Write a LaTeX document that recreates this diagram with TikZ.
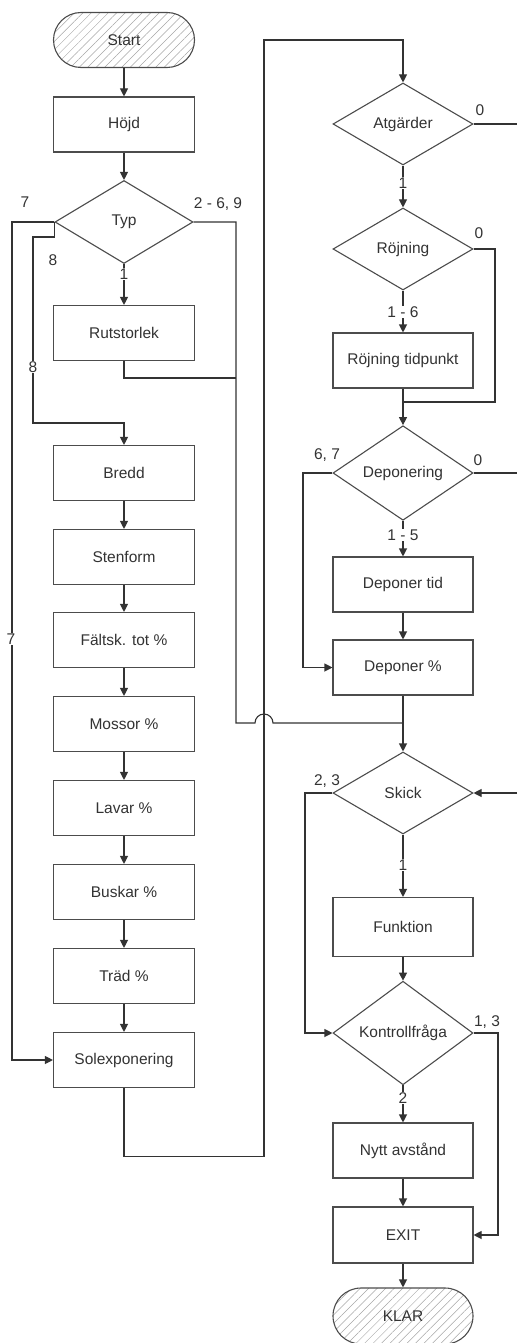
\documentclass[tikz,border=0pt]{standalone}
\usepackage{fontspec}
\setmainfont{Liberation Sans}
\usetikzlibrary{shapes.geometric,arrows.meta,patterns.meta}

\begin{document}
\begin{tikzpicture}[x=1pt,y=-1pt,>={Triangle[length=8pt,width=8pt]},
  line width=1.1pt,font=\fontsize{15.5}{18}\selectfont,
  box/.style={draw=black!70,fill=white,text=black!80,minimum width=141pt,minimum height=55pt,inner sep=0pt},
  ask/.style={diamond,draw=black!70,fill=white,text=black!80,minimum width=140pt,minimum height=82pt,inner sep=0pt},
  term/.style={box,rounded corners=27.5pt,pattern={Lines[angle=45,distance=6pt,line width=0.5pt]},pattern color=black!35},
  flow/.style={draw=black!80,->},
  wire/.style={draw=black!80},
  lab/.style={text=black!80,inner sep=1pt},
  onlab/.style={lab,fill=white}]
\useasboundingbox (0,0) rectangle (517,1343);
% left column
\node[term] (start) at (124,40) {Start};
\node[box] (hojd) at (124,124.5) {Höjd};
\node[ask,minimum width=138pt,minimum height=83pt] (typ) at (124,222) {Typ};
\node[box] (rut) at (124,333) {Rutstorlek};
\node[box] (bredd) at (124,473) {Bredd};
\node[box] (sten) at (124,557) {Stenform};
\node[box] (falt) at (124,640) {Fältsk. tot \%};
\node[box] (mossor) at (124,724) {Mossor \%};
\node[box] (lavar) at (124,808) {Lavar \%};
\node[box] (buskar) at (124,892) {Buskar \%};
\node[box] (trad) at (124,976) {Träd \%};
\node[box] (sol) at (124,1060) {Solexponering};
% right column
\node[ask] (atg) at (403,124) {Atgärder};
\node[ask] (roj) at (403,249) {Röjning};
\node[box,minimum width=140pt] (rojtid) at (403,360.5) {Röjning tidpunkt};
\node[ask] (dep) at (403,473) {Deponering};
\node[box,minimum width=140pt] (deptid) at (403,584.5) {Deponer tid};
\node[box,minimum width=140pt] (depp) at (403,667.5) {Deponer \%};
\node[ask] (skick) at (403,793) {Skick};
\node[box,minimum width=140pt,minimum height=59pt] (funk) at (403,927) {Funktion};
\node[ask] (kon) at (403,1033) {Kontrollfråga};
\node[box,minimum width=140pt] (nytt) at (403,1150.5) {Nytt avstånd};
\node[box,minimum width=140pt,minimum height=56pt] (exit) at (403,1235) {EXIT};
\node[term,minimum width=140pt,minimum height=56pt,rounded corners=28pt] (klar) at (403,1316) {KLAR};
% joins and right edge
\coordinate (jR) at (236,378);
\coordinate (jD) at (403,402);
\coordinate (jS) at (403,723);
\coordinate (eA) at (517,124);
\coordinate (eD) at (517,473);
\coordinate (eS) at (517,793);
% straight flow
\foreach \a/\b in {start/hojd,hojd/typ,typ/rut,bredd/sten,sten/falt,falt/mossor,mossor/lavar,lavar/buskar,buskar/trad,trad/sol,atg/roj,roj/rojtid,rojtid/dep,dep/deptid,deptid/depp,depp/skick,skick/funk,funk/kon,kon/nytt,nytt/exit,exit/klar}
  \draw[flow] (\a) -- (\b);
% branches of Typ
\draw[flow] (typ.west) -- (12,222) |- (sol.west);
\draw[flow] (typ.west) -- ++(0,15) -| (33,423) -| (bredd.north);
\draw[wire] (typ.east) -- (236,222) -- (236,723) -- (255,723) arc[start angle=180,end angle=0,radius=9pt] -- (jS);
\draw[wire] (rut.south) |- (jR);
% loop back to the top
\draw[flow] (sol.south) -- ++(0,68) -| (264,40) -| (atg.north);
% right branches
\draw[wire] (atg.east) -- (eA);
\draw[wire] (roj.east) -- (495,249) |- (jD);
\draw[wire] (dep.east) -- (eD);
\draw[flow] (dep.west) -- (303,473) |- (depp.west);
\draw[flow] (eS) -- (skick.east);
\draw[flow] (skick.west) -- (305,793) |- (kon.west);
\draw[flow] (kon.east) -- (498,1033) |- (exit.east);
% labels
\node[lab] (l7a) at (25,202) {7};
\node[lab] (l8a) at (53,260) {8};
\node[lab] (l269) at (218,204) {2 - 6, 9};
\node[onlab] (l1a) at (124,274) {1};
\node[onlab] (l8b) at (33,367) {8};
\node[onlab] (l7b) at (11,639) {7};
\node[lab] (l0a) at (480,110) {0};
\node[onlab] (l1b) at (403,183) {1};
\node[lab] (l0b) at (479,233) {0};
\node[onlab] (l16) at (403,312) {1 - 6};
\node[lab] (l67) at (327,455) {6, 7};
\node[lab] (l0c) at (478,460) {0};
\node[onlab] (l15) at (403,535) {1 - 5};
\node[lab] (l23) at (327,781) {2, 3};
\node[onlab] (l1c) at (403,865) {1};
\node[lab] (l13) at (487,1022) {1, 3};
\node[onlab] (l2) at (403,1098) {2};
\end{tikzpicture}
\end{document}
